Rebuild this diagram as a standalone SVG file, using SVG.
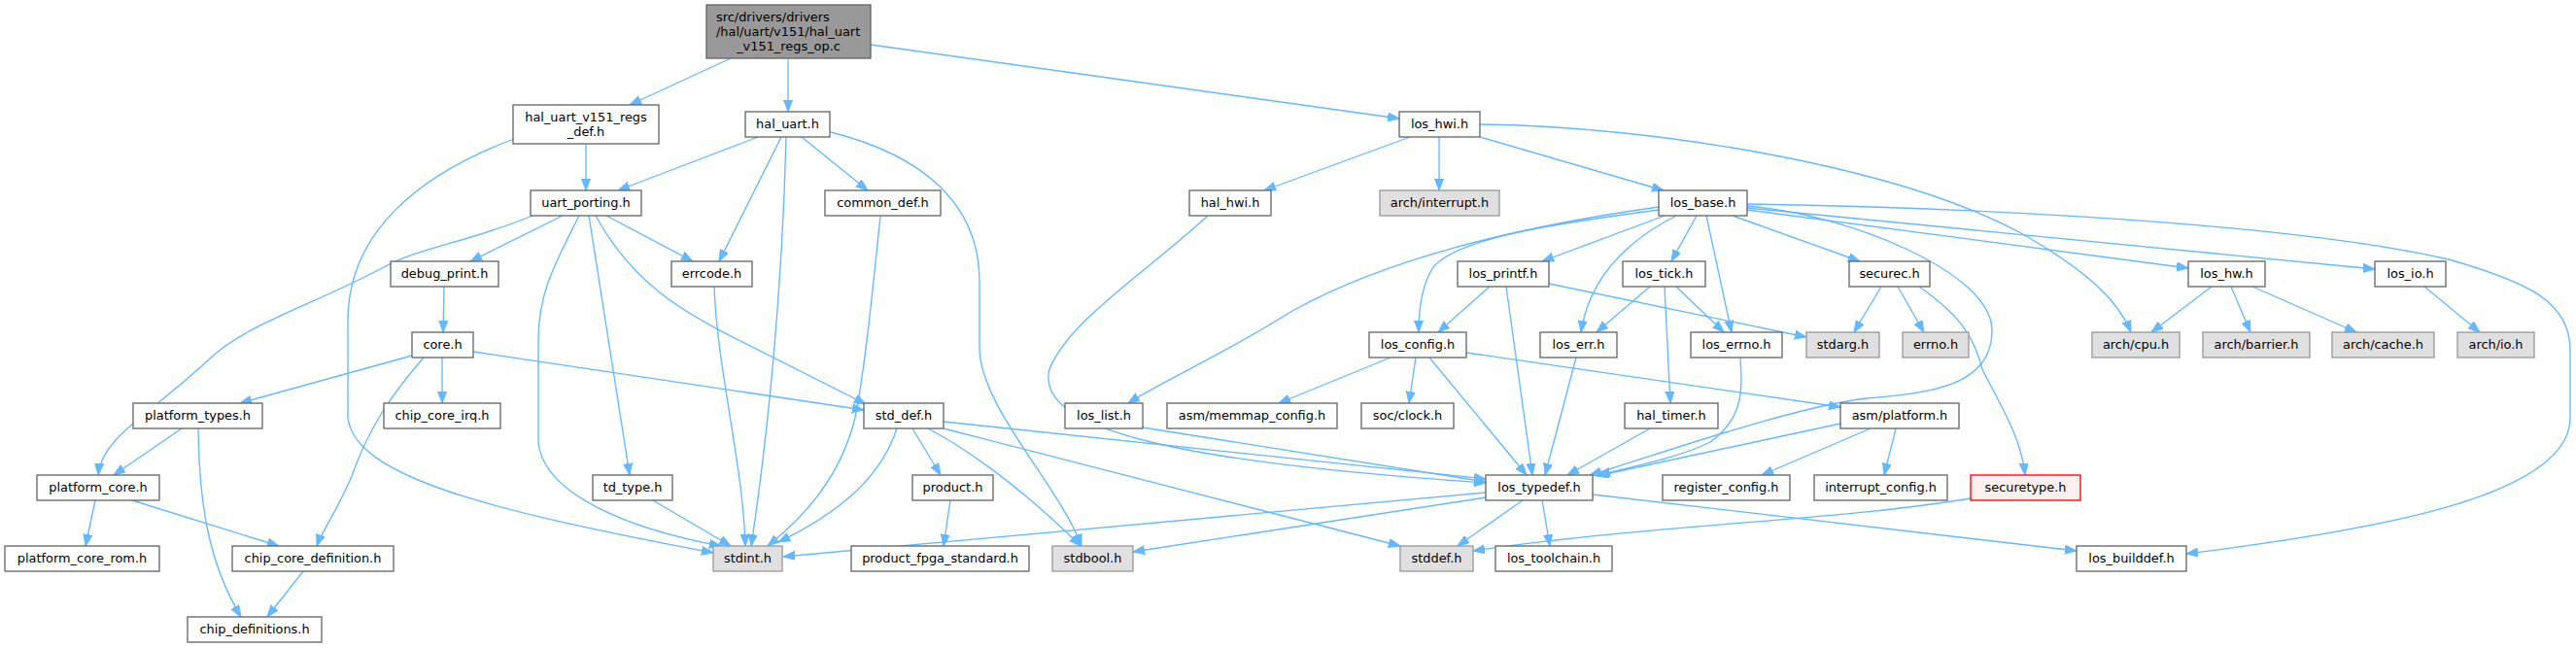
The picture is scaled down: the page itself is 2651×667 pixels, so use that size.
<svg xmlns="http://www.w3.org/2000/svg" width="2651" height="667" viewBox="0 0 2651 667">
<defs>
<marker id="ah" markerUnits="userSpaceOnUse" markerWidth="13" markerHeight="10" refX="12" refY="4.5" orient="auto">
<path d="M0,0 L12,4.5 L0,9 z" fill="#63b8ff" stroke="#63b8ff" stroke-width="1"/>
</marker>
<style>
.n rect{fill:#ffffff;stroke:#666666;stroke-width:1.33}
.x rect{fill:#e0e0e0;stroke:#999999;stroke-width:1.33}
.m rect{fill:#999999;stroke:#666666;stroke-width:1.33}
.r rect{fill:#fff0f0;stroke:#ff0000;stroke-width:1.33}
text{font-family:"DejaVu Sans","Liberation Sans",sans-serif;font-size:12.9px;fill:#000000;text-anchor:middle}
#edges path{fill:none;stroke:#63b8ff;stroke-width:1.33;marker-end:url(#ah)}
</style>
</defs>
<rect x="0" y="0" width="2651" height="667" fill="#ffffff"/>
<g id="edges">
<path d="M752,60 L648,108"/>
<path d="M811,60 L811,115"/>
<path d="M896,46 L1440,122"/>
<path d="M603,148 L603,196"/>
<path d="M529,143 C430,180 358,240 358,330 L358,430 C365,490 500,525 734,569"/>
<path d="M780,141 L636,196"/>
<path d="M804,141 L740,269"/>
<path d="M809,141 C805,300 790,450 773,562"/>
<path d="M825,141 L893,196"/>
<path d="M855,136 C950,160 1008,210 1008,290 L1008,360 C1010,420 1090,500 1113,562"/>
<path d="M1451,141 L1301,196"/>
<path d="M1481,141 L1481,196"/>
<path d="M1523,141 L1712,196"/>
<path d="M1523,128 C1700,130 1950,170 2080,240 C2150,280 2180,310 2193,342"/>
<path d="M579,222 L484,269"/>
<path d="M624,222 L713,269"/>
<path d="M548,222 C480,250 430,255 395,275 C320,315 250,335 215,370 C150,430 105,450 101,489"/>
<path d="M596,222 C572,270 554,300 554,350 L554,456 C560,510 650,545 742,562"/>
<path d="M606,222 L648,489"/>
<path d="M613,222 C650,290 700,320 760,350 C820,380 860,400 891,416"/>
<path d="M457,295 L456,342"/>
<path d="M735,295 C738,380 765,480 767,562"/>
<path d="M906,222 C898,300 890,380 880,430 C865,490 830,530 790,562"/>
<path d="M1243,222 C1180,280 1100,330 1080,380 C1065,440 1200,475 1529,497"/>
<path d="M1713,222 L1587,269"/>
<path d="M1707,216 C1600,230 1500,245 1475,275 C1462,295 1460,320 1460,342"/>
<path d="M1707,213 C1550,235 1420,270 1330,320 C1250,370 1200,390 1161,415"/>
<path d="M1725,222 C1670,250 1635,290 1627,342"/>
<path d="M1746,222 L1720,269"/>
<path d="M1756,222 L1782,342"/>
<path d="M1783,222 L1914,269"/>
<path d="M1798,216 L2252,276"/>
<path d="M1798,214 L2444,277"/>
<path d="M1798,212 C1900,220 2050,280 2050,340 C2050,400 1980,405 1920,410 C1840,420 1700,470 1636,489"/>
<path d="M1798,210 C2100,215 2380,235 2520,267 C2600,290 2645,310 2645,360 L2645,430 C2645,510 2450,545 2250,570"/>
<path d="M1533,295 L1480,342"/>
<path d="M1550,295 L1577,489"/>
<path d="M1594,292 L1859,347"/>
<path d="M1698,295 L1643,342"/>
<path d="M1725,295 L1774,342"/>
<path d="M1713,295 L1719,415"/>
<path d="M1936,295 L1908,342"/>
<path d="M1953,295 L1980,342"/>
<path d="M1975,295 C2010,320 2030,340 2040,380 C2060,420 2080,450 2084,489"/>
<path d="M2276,295 L2214,342"/>
<path d="M2296,295 L2316,342"/>
<path d="M2318,295 L2425,342"/>
<path d="M2495,295 L2552,342"/>
<path d="M424,366 L247,415"/>
<path d="M455,368 L455,415"/>
<path d="M436,368 C400,410 380,440 362,490 C345,530 332,545 326,562"/>
<path d="M487,362 L889,422"/>
<path d="M1431,368 L1316,415"/>
<path d="M1457,368 L1450,415"/>
<path d="M1471,368 L1571,489"/>
<path d="M1509,363 L1894,419"/>
<path d="M1622,368 L1590,489"/>
<path d="M1791,368 C1793,400 1795,430 1760,455 C1730,470 1690,478 1645,489"/>
<path d="M187,441 L117,489"/>
<path d="M204,441 C205,520 215,580 248,635"/>
<path d="M923,441 C910,480 880,520 801,558"/>
<path d="M939,441 L968,489"/>
<path d="M955,441 C1010,470 1070,520 1112,562"/>
<path d="M971,441 L1441,562"/>
<path d="M971,434 L1529,493"/>
<path d="M1176,440 L1529,496"/>
<path d="M1698,441 L1613,489"/>
<path d="M1925,441 L1813,489"/>
<path d="M1951,441 L1939,489"/>
<path d="M1894,436 L1643,490"/>
<path d="M98,515 L88,562"/>
<path d="M136,515 L287,562"/>
<path d="M672,515 L752,562"/>
<path d="M978,515 L971,562"/>
<path d="M1529,507 L806,573"/>
<path d="M1529,512 L1166,568"/>
<path d="M1567,515 L1500,562"/>
<path d="M1587,515 L1595,562"/>
<path d="M1639,509 L2137,567"/>
<path d="M2028,513 C1900,535 1700,540 1516,567"/>
<path d="M312,588 L275,635"/>
</g>
<g id="n0" class="m"><rect x="727" y="5" width="169" height="55"/><text x="737" y="21.5" style="text-anchor:start">src/drivers/drivers</text><text x="737" y="36.5" style="text-anchor:start">/hal/uart/v151/hal_uart</text><text x="811.5" y="51.5">_v151_regs_op.c</text></g>
<g id="n1" class="n"><rect x="528" y="108" width="150" height="40"/><text x="603" y="124.5">hal_uart_v151_regs</text><text x="603" y="139.5">_def.h</text></g>
<g id="n2" class="n"><rect x="767" y="115" width="87" height="26"/><text x="810.5" y="132">hal_uart.h</text></g>
<g id="n3" class="n"><rect x="1440" y="115" width="83" height="26"/><text x="1481.5" y="132">los_hwi.h</text></g>
<g id="n4" class="n"><rect x="546" y="196" width="114" height="26"/><text x="603" y="213">uart_porting.h</text></g>
<g id="n5" class="n"><rect x="849" y="196" width="119" height="26"/><text x="908.5" y="213">common_def.h</text></g>
<g id="n6" class="n"><rect x="1224" y="196" width="84" height="26"/><text x="1266" y="213">hal_hwi.h</text></g>
<g id="n7" class="x"><rect x="1420" y="196" width="123" height="26"/><text x="1481.5" y="213">arch/interrupt.h</text></g>
<g id="n8" class="n"><rect x="1707" y="196" width="91" height="26"/><text x="1752.5" y="213">los_base.h</text></g>
<g id="n9" class="n"><rect x="402" y="269" width="111" height="26"/><text x="457.5" y="286">debug_print.h</text></g>
<g id="n10" class="n"><rect x="691" y="269" width="83" height="26"/><text x="732.5" y="286">errcode.h</text></g>
<g id="n11" class="n"><rect x="1500" y="269" width="94" height="26"/><text x="1547" y="286">los_printf.h</text></g>
<g id="n12" class="n"><rect x="1670" y="269" width="85" height="26"/><text x="1712.5" y="286">los_tick.h</text></g>
<g id="n13" class="n"><rect x="1903" y="269" width="83" height="26"/><text x="1944.5" y="286">securec.h</text></g>
<g id="n14" class="n"><rect x="2252" y="269" width="79" height="26"/><text x="2291.5" y="286">los_hw.h</text></g>
<g id="n15" class="n"><rect x="2444" y="269" width="73" height="26"/><text x="2480.5" y="286">los_io.h</text></g>
<g id="n16" class="n"><rect x="424" y="342" width="63" height="26"/><text x="455.5" y="359">core.h</text></g>
<g id="n17" class="n"><rect x="1409" y="342" width="100" height="26"/><text x="1459" y="359">los_config.h</text></g>
<g id="n18" class="n"><rect x="1585" y="342" width="79" height="26"/><text x="1624.5" y="359">los_err.h</text></g>
<g id="n19" class="n"><rect x="1740" y="342" width="94" height="26"/><text x="1787" y="359">los_errno.h</text></g>
<g id="n20" class="x"><rect x="1859" y="342" width="75" height="26"/><text x="1896.5" y="359">stdarg.h</text></g>
<g id="n21" class="x"><rect x="1958" y="342" width="68" height="26"/><text x="1992" y="359">errno.h</text></g>
<g id="n22" class="x"><rect x="2153" y="342" width="90" height="26"/><text x="2198" y="359">arch/cpu.h</text></g>
<g id="n23" class="x"><rect x="2267" y="342" width="110" height="26"/><text x="2322" y="359">arch/barrier.h</text></g>
<g id="n24" class="x"><rect x="2400" y="342" width="105" height="26"/><text x="2452.5" y="359">arch/cache.h</text></g>
<g id="n25" class="x"><rect x="2529" y="342" width="79" height="26"/><text x="2568.5" y="359">arch/io.h</text></g>
<g id="n26" class="n"><rect x="137" y="415" width="133" height="26"/><text x="203.5" y="432">platform_types.h</text></g>
<g id="n27" class="n"><rect x="395" y="415" width="120" height="26"/><text x="455" y="432">chip_core_irq.h</text></g>
<g id="n28" class="n"><rect x="889" y="415" width="82" height="26"/><text x="930" y="432">std_def.h</text></g>
<g id="n29" class="n"><rect x="1096" y="415" width="80" height="26"/><text x="1136" y="432">los_list.h</text></g>
<g id="n30" class="n"><rect x="1201" y="415" width="175" height="26"/><text x="1288.5" y="432">asm/memmap_config.h</text></g>
<g id="n31" class="n"><rect x="1401" y="415" width="95" height="26"/><text x="1448.5" y="432">soc/clock.h</text></g>
<g id="n32" class="n"><rect x="1672" y="415" width="96" height="26"/><text x="1720" y="432">hal_timer.h</text></g>
<g id="n33" class="n"><rect x="1894" y="415" width="122" height="26"/><text x="1955" y="432">asm/platform.h</text></g>
<g id="n34" class="n"><rect x="38" y="489" width="126" height="26"/><text x="101" y="506">platform_core.h</text></g>
<g id="n35" class="n"><rect x="610" y="489" width="82" height="26"/><text x="651" y="506">td_type.h</text></g>
<g id="n36" class="n"><rect x="939" y="489" width="83" height="26"/><text x="980.5" y="506">product.h</text></g>
<g id="n37" class="n"><rect x="1529" y="489" width="110" height="26"/><text x="1584" y="506">los_typedef.h</text></g>
<g id="n38" class="n"><rect x="1711" y="489" width="131" height="26"/><text x="1776.5" y="506">register_config.h</text></g>
<g id="n39" class="n"><rect x="1867" y="489" width="137" height="26"/><text x="1935.5" y="506">interrupt_config.h</text></g>
<g id="n40" class="r"><rect x="2028" y="489" width="113" height="26"/><text x="2084.5" y="506">securetype.h</text></g>
<g id="n41" class="n"><rect x="5" y="562" width="159" height="26"/><text x="84.5" y="579">platform_core_rom.h</text></g>
<g id="n42" class="n"><rect x="239" y="562" width="166" height="26"/><text x="322" y="579">chip_core_definition.h</text></g>
<g id="n43" class="x"><rect x="734" y="562" width="71" height="26"/><text x="769.5" y="579">stdint.h</text></g>
<g id="n44" class="n"><rect x="876" y="562" width="183" height="26"/><text x="967.5" y="579">product_fpga_standard.h</text></g>
<g id="n45" class="x"><rect x="1083" y="562" width="83" height="26"/><text x="1124.5" y="579">stdbool.h</text></g>
<g id="n46" class="x"><rect x="1441" y="562" width="75" height="26"/><text x="1478.5" y="579">stddef.h</text></g>
<g id="n47" class="n"><rect x="1539" y="562" width="120" height="26"/><text x="1599" y="579">los_toolchain.h</text></g>
<g id="n48" class="n"><rect x="2137" y="562" width="113" height="26"/><text x="2193.5" y="579">los_builddef.h</text></g>
<g id="n49" class="n"><rect x="193" y="635" width="138" height="26"/><text x="262" y="652">chip_definitions.h</text></g>
</svg>
